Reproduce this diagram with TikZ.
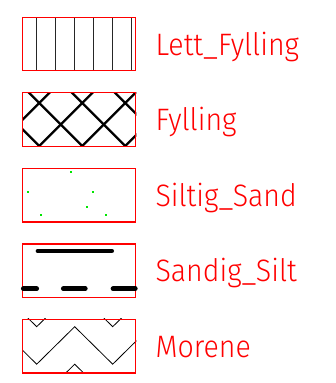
\documentclass[tikz,border=0pt]{standalone}
\usepackage{fontspec}
\setmainfont{Fira Sans Light}[FakeStretch=0.92]
\usetikzlibrary{positioning,backgrounds}
\definecolor{grain}{RGB}{0,230,0}
\begin{document}
\begin{tikzpicture}[x=1pt, y=-1pt,
      legend/.style={rectangle, draw=red, line width=1.3pt, minimum width=113pt, minimum height=53.5pt, inner sep=0pt},
      caption/.style={anchor=base west, text=red, inner sep=0pt, font=\fontsize{31}{31}\selectfont},
      hatch/.style={black!85, line width=0.9pt},
      cross/.style={black, line width=2.3pt},
      chevron/.style={black, line width=0.8pt},
      band/.style={black, line width=4.7pt, line cap=round}
  ]
    \useasboundingbox (0,0) rectangle (335,383);
    \node[legend] (lett) at (79.2,44) {};
    \node[legend] (fyll) at (79.2,119.5) {};
    \node[legend] (sand) at (79.2,195.3) {};
    \node[legend] (silt) at (79.2,270.7) {};
    \node[legend] (more) at (79.2,346.3) {};

    \node[caption] (lettlbl) at ([xshift=19pt,yshift=-11pt]lett.east) {Lett\_Fylling};
    \node[caption] (fylllbl) at ([xshift=19pt,yshift=-11pt]fyll.east) {Fylling};
    \node[caption] (sandlbl) at ([xshift=19pt,yshift=-11pt]sand.east) {Siltig\_Sand};
    \node[caption] (siltlbl) at ([xshift=19pt,yshift=-11pt]silt.east) {Sandig\_Silt};
    \node[caption] (morelbl) at ([xshift=19pt,yshift=-11pt]more.east) {Morene};

    \begin{scope}[on background layer]
      \foreach \x in {36.7,55.7,74.7,93.7,112.3,131.3} {
        \draw[hatch] (\x,17.3) -- (\x,70.7);
      }
      \begin{scope}
        \clip (fyll.south west) rectangle (fyll.north east);
        \foreach \c in {142.3,185.3,228.3,271.3} {
          \draw[cross] ({\c-85},85) -- ({\c-155},155);
        }
        \foreach \d in {-106.7,-63.7,-20.7,22.3} {
          \draw[cross] ({\d+85},85) -- ({\d+155},155);
        }
      \end{scope}
      \begin{scope}
        \clip (more.south west) rectangle (more.north east);
        \foreach \top/\bot in {289.2/326.7,326.7/364.2,364.2/401.7} {
          \draw[chevron] (-1.3,\top) -- (36.7,\bot) -- (74.7,\top) -- (112.7,\bot) -- (150.7,\top);
        }
      \end{scope}
    \end{scope}

    \foreach \x/\y in {71.3/172.3,28.3/191.7,93/191.7,86.7/206.7,41/215.3,106/215.3} {
      \fill[grain] (\x-1,\y-1) rectangle (\x+1,\y+1);
    }

    \draw[band] (38,251) -- (111.7,251);
    \foreach \a/\b in {23.3/36.7,63.3/85.3,113/135.3} {
      \draw[band] (\a,288.7) -- (\b,288.7);
    }
  \end{tikzpicture}
\end{document}
